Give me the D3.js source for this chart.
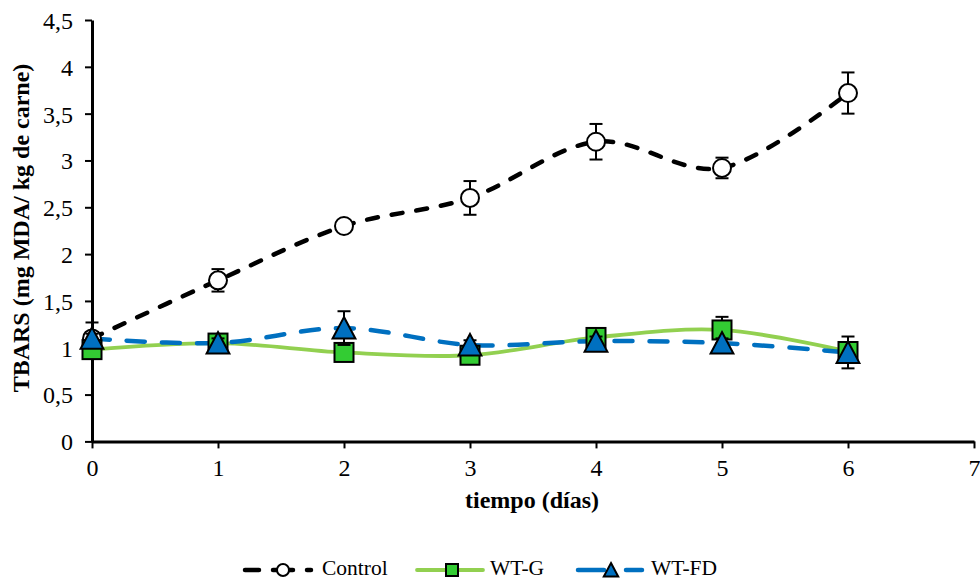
<!DOCTYPE html>
<html><head><meta charset="utf-8">
<script src="https://cdn.jsdelivr.net/npm/d3@7"></script>
<style>body{margin:0;background:#fff}svg{display:block}</style>
</head><body><svg id="c" width="980" height="581"></svg>
<script>
const days = [0,1,2,3,4,5,6];
const controlVals = [1.10,1.72,2.30,2.60,3.20,2.92,3.72];
const controlErr  = [0.17,0.12,0.03,0.18,0.19,0.11,0.22];
const wtgVals = [0.98,1.05,0.95,0.92,1.11,1.19,0.96];
const wtgErr  = [0.05,0.05,0.05,0.05,0.05,0.14,0.05];
const wtfdVals = [1.10,1.05,1.21,1.03,1.07,1.05,0.95];
const wtfdErr  = [0.05,0.05,0.18,0.05,0.05,0.05,0.17];
const xTicks = [0,1,2,3,4,5,6,7];
const yTicks = [0,0.5,1,1.5,2,2.5,3,3.5,4,4.5];
const seriesNames = ["Control","WT-G","WT-FD"];

const FONT = "Liberation Serif";
const svg = d3.select("#c");
const x = d3.scaleLinear().domain([0,7]).range([92,974]);
const y = d3.scaleLinear().domain([0,4.5]).range([441.4,20]);
const fmt = v => String(v).replace(".", ",");

const xAxis = svg.append("g").attr("transform","translate(0,441.4)")
  .call(d3.axisBottom(x).tickValues(xTicks).tickFormat(fmt).tickSize(7).tickSizeOuter(0));
const yAxis = svg.append("g").attr("transform","translate(92,0)")
  .call(d3.axisLeft(y).tickValues(yTicks).tickFormat(fmt).tickSize(7).tickSizeOuter(0));
[xAxis,yAxis].forEach(a=>{
  a.attr("font-family",FONT).attr("font-size",24);
  a.select(".domain").attr("stroke","#000").attr("stroke-width",3);
  a.selectAll(".tick line").attr("stroke","#000").attr("stroke-width",2);
  a.selectAll(".tick text").attr("fill","#000");
});
xAxis.selectAll(".tick text").attr("y",35).attr("dy",0);
yAxis.selectAll(".tick text").attr("x",-19).attr("dy","0.35em");

svg.append("text").attr("x",532).attr("y",508).attr("text-anchor","middle")
  .attr("font-family",FONT).attr("font-size",24).attr("font-weight","bold").text("tiempo (días)");
svg.append("text").attr("transform","translate(29,228) rotate(-90)").attr("text-anchor","middle")
  .attr("font-family",FONT).attr("font-size",24).attr("font-weight","bold").text("TBARS (mg MDA/ kg de carne)");

const line = d3.line().x((d,i)=>x(days[i])).y(d=>y(d)).curve(d3.curveCardinal.tension(0));

const series = [
  {vals:controlVals, err:controlErr, stroke:"#000", width:4.5, dash:"11,14", marker:"circle"},
  {vals:wtgVals, err:wtgErr, stroke:"#92D050", width:3.8, dash:null, marker:"square"},
  {vals:wtfdVals, err:wtfdErr, stroke:"#0070C0", width:4.5, dash:"18,17", marker:"triangle"}
];

function drawMarker(g, type, cx, cy, s){
  if(type==="circle") g.append("circle").attr("cx",cx).attr("cy",cy).attr("r",s*0.5)
      .attr("fill","#fff").attr("stroke","#000").attr("stroke-width",2);
  else if(type==="square") g.append("rect").attr("x",cx-s/2).attr("y",cy-s/2).attr("width",s).attr("height",s)
      .attr("fill","#33CC33").attr("stroke","#000").attr("stroke-width",2);
  else g.append("path").attr("d",`M${cx},${cy-s*0.58}L${cx+s*0.6},${cy+s*0.55}L${cx-s*0.6},${cy+s*0.55}Z`)
      .attr("fill","#0070C0").attr("stroke","#000").attr("stroke-width",2).attr("stroke-linejoin","miter");
}

series.forEach(s=>{
  svg.append("path").datum(s.vals).attr("d",line).attr("fill","none")
    .attr("stroke",s.stroke).attr("stroke-width",s.width)
    .attr("stroke-dasharray",s.dash).attr("stroke-linecap","round");
});
const msize = [18,19,19];
series.forEach((s,k)=>{
  const g = svg.append("g");
  s.vals.forEach((v,i)=>{
    const cx = x(days[i]), y1 = y(v+s.err[i]), y2 = y(v-s.err[i]);
    g.append("line").attr("x1",cx).attr("x2",cx).attr("y1",y1).attr("y2",y2).attr("stroke","#000").attr("stroke-width",2);
    [y1,y2].forEach(yy=>g.append("line").attr("x1",cx-6.5).attr("x2",cx+6.5).attr("y1",yy).attr("y2",yy).attr("stroke","#000").attr("stroke-width",2));
  });
  s.vals.forEach((v,i)=>drawMarker(g, s.marker, x(days[i]), y(v), msize[k]));
});

// legend
const legend = [
  {x1:245,x2:311,mx:283,tx:322,dash:"14,14,20,14,6,99"},
  {x1:417,x2:483,mx:452,tx:490,dash:null},
  {x1:578,x2:642,mx:611,tx:651,dash:"26,22,20,99"}
];
legend.forEach((l,i)=>{
  const s = series[i], ly = 570;
  svg.append("line").attr("x1",l.x1).attr("x2",l.x2).attr("y1",ly).attr("y2",ly)
    .attr("stroke",s.stroke).attr("stroke-width",s.width).attr("stroke-linecap","round")
    .attr("stroke-dasharray", l.dash);
  drawMarker(svg.append("g"), s.marker, l.mx, ly, 12);
  svg.append("text").attr("x",l.tx).attr("y",575).attr("font-family",FONT).attr("font-size",21.5).text(seriesNames[i]);
});
</script></body></html>
